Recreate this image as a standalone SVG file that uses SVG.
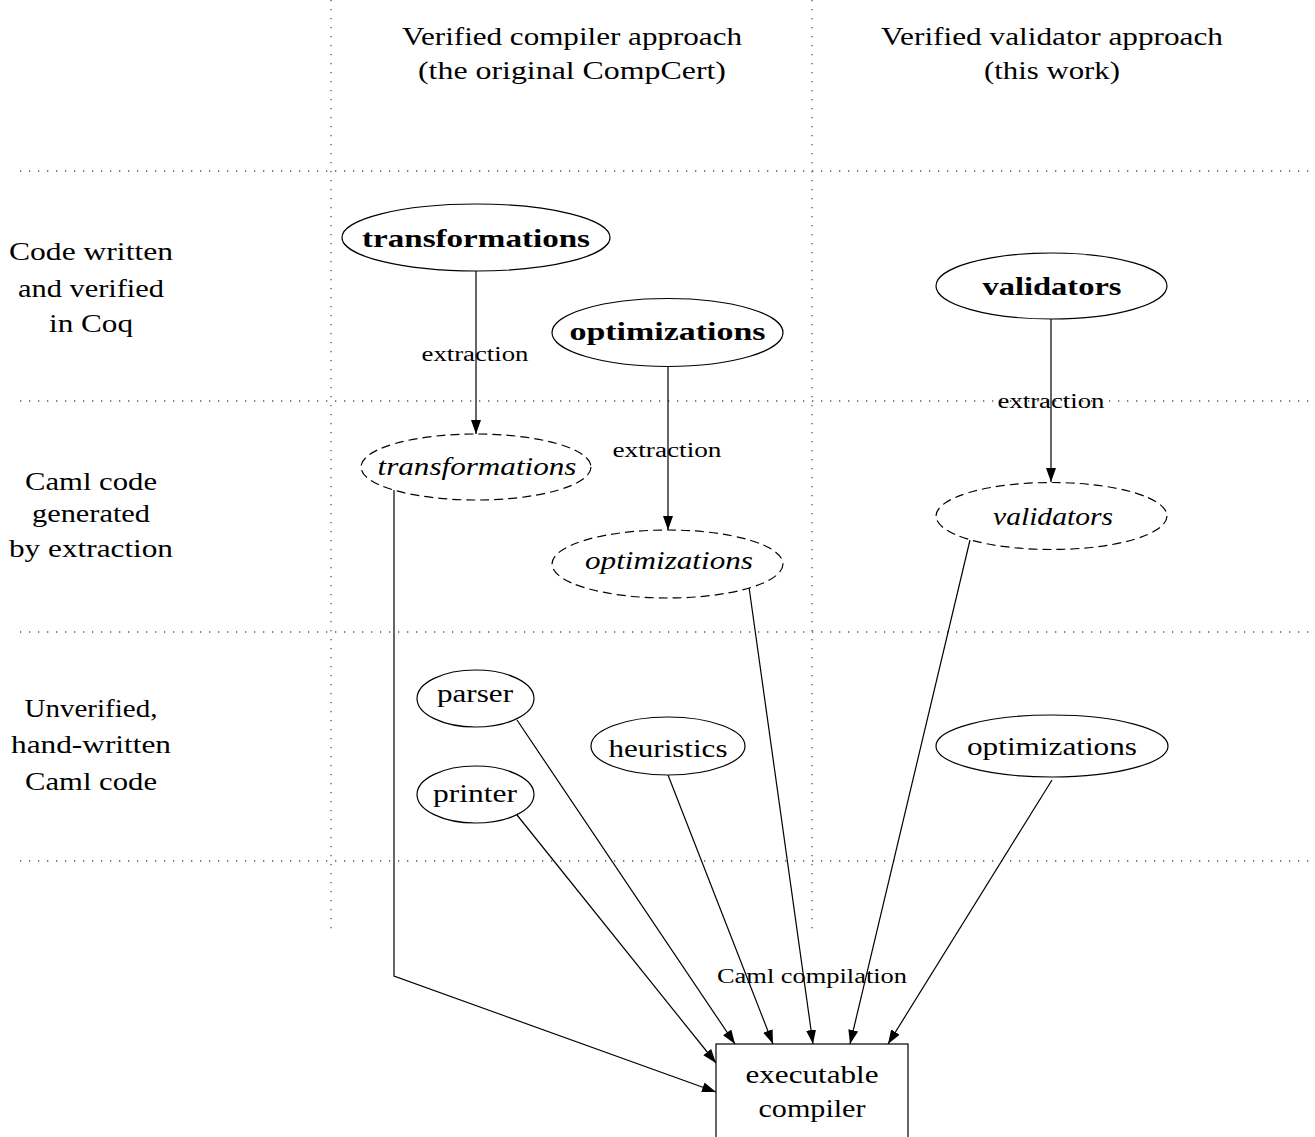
<svg xmlns="http://www.w3.org/2000/svg" width="1315" height="1137" viewBox="0 0 1315 1137">
<style>
text{font-family:"Liberation Serif","DejaVu Serif",serif;fill:#000;text-anchor:middle}
.t{font-size:25px}
.b{font-size:25px;font-weight:bold}
.i{font-size:25px;font-style:italic}
.l{font-size:20px}
.grid{stroke:#555;stroke-width:1.3;stroke-dasharray:1.3 7.7;fill:none}
.node{fill:#fff;stroke:#000;stroke-width:1.2}
.dash{fill:#fff;stroke:#000;stroke-width:1.2;stroke-dasharray:9 5}
.edge{stroke:#000;stroke-width:1.2;fill:none;marker-end:url(#ah)}
</style>
<defs>
<marker id="ah" markerUnits="userSpaceOnUse" markerWidth="15" markerHeight="11" refX="14" refY="5" orient="auto" viewBox="0 0 15 11">
<path d="M0,0 L14,5 L0,10 z" fill="#000"/>
</marker>
</defs>
<rect width="1315" height="1137" fill="#fff"/>
<g id="grid">
<line class="grid" x1="331" y1="0" x2="331" y2="932"/>
<line class="grid" x1="812" y1="0" x2="812" y2="932"/>
<line class="grid" x1="20" y1="171" x2="1315" y2="171"/>
<line class="grid" x1="20" y1="401" x2="1315" y2="401"/>
<line class="grid" x1="20" y1="632" x2="1315" y2="632"/>
<line class="grid" x1="20" y1="861" x2="1315" y2="861"/>
</g>
<g id="headers">
<text class="t" x="572" y="45" textLength="340" lengthAdjust="spacingAndGlyphs">Verified compiler approach</text>
<text class="t" x="572" y="79" textLength="308" lengthAdjust="spacingAndGlyphs">(the original CompCert)</text>
<text class="t" x="1052" y="45" textLength="342" lengthAdjust="spacingAndGlyphs">Verified validator approach</text>
<text class="t" x="1052" y="79" textLength="136" lengthAdjust="spacingAndGlyphs">(this work)</text>
</g>
<g id="rowlabels">
<text class="t" x="91" y="260" textLength="164" lengthAdjust="spacingAndGlyphs">Code written</text>
<text class="t" x="91" y="297" textLength="146" lengthAdjust="spacingAndGlyphs">and verified</text>
<text class="t" x="91" y="332" textLength="84" lengthAdjust="spacingAndGlyphs">in Coq</text>
<text class="t" x="91" y="490" textLength="132" lengthAdjust="spacingAndGlyphs">Caml code</text>
<text class="t" x="91" y="522" textLength="118" lengthAdjust="spacingAndGlyphs">generated</text>
<text class="t" x="91" y="557" textLength="164" lengthAdjust="spacingAndGlyphs">by extraction</text>
<text class="t" x="91" y="717" textLength="133" lengthAdjust="spacingAndGlyphs">Unverified,</text>
<text class="t" x="91" y="753" textLength="160" lengthAdjust="spacingAndGlyphs">hand-written</text>
<text class="t" x="91" y="790" textLength="132" lengthAdjust="spacingAndGlyphs">Caml code</text>
</g>
<g id="connectors">
<line class="edge" x1="476" y1="271" x2="476" y2="434"/>
<line class="edge" x1="668" y1="366" x2="668" y2="530"/>
<line class="edge" x1="1051" y1="319" x2="1051" y2="482"/>
<polyline class="edge" points="394,490 394,976 716,1092"/>
<line class="edge" x1="517" y1="720" x2="735" y2="1044"/>
<line class="edge" x1="517" y1="815" x2="716" y2="1063"/>
<line class="edge" x1="668" y1="775" x2="773" y2="1044"/>
<line class="edge" x1="749" y1="587" x2="813" y2="1044"/>
<line class="edge" x1="970" y1="540" x2="850" y2="1044"/>
<line class="edge" x1="1052" y1="780" x2="888" y2="1044"/>
<text class="l" x="475" y="361" textLength="107" lengthAdjust="spacingAndGlyphs">extraction</text>
<text class="l" x="667" y="457" textLength="109" lengthAdjust="spacingAndGlyphs">extraction</text>
<text class="l" x="1051" y="408" textLength="107" lengthAdjust="spacingAndGlyphs">extraction</text>
<text class="l" x="812" y="983" textLength="190" lengthAdjust="spacingAndGlyphs">Caml compilation</text>
</g>
<g id="n-transformations">
<ellipse class="node" cx="476" cy="237.5" rx="134" ry="33.5"/>
<text class="b" x="476" y="247" textLength="228" lengthAdjust="spacingAndGlyphs">transformations</text>
</g>
<g id="n-optimizations">
<ellipse class="node" cx="667.5" cy="332.5" rx="115.5" ry="34"/>
<text class="b" x="667.5" y="340" textLength="196" lengthAdjust="spacingAndGlyphs">optimizations</text>
</g>
<g id="n-validators">
<ellipse class="node" cx="1051.5" cy="286" rx="115.5" ry="33"/>
<text class="b" x="1052" y="295" textLength="139" lengthAdjust="spacingAndGlyphs">validators</text>
</g>
<g id="n-transformations-caml">
<ellipse class="dash" cx="476" cy="467" rx="115" ry="33"/>
<text class="i" x="477" y="475" textLength="199" lengthAdjust="spacingAndGlyphs">transformations</text>
</g>
<g id="n-optimizations-caml">
<ellipse class="dash" cx="667.5" cy="564" rx="115.5" ry="34"/>
<text class="i" x="669" y="569" textLength="168" lengthAdjust="spacingAndGlyphs">optimizations</text>
</g>
<g id="n-validators-caml">
<ellipse class="dash" cx="1051.5" cy="516" rx="115.5" ry="33.5"/>
<text class="i" x="1053" y="525" textLength="120" lengthAdjust="spacingAndGlyphs">validators</text>
</g>
<g id="n-parser">
<ellipse class="node" cx="475.5" cy="698.5" rx="58.5" ry="28.5"/>
<text class="t" x="475" y="702" textLength="76" lengthAdjust="spacingAndGlyphs">parser</text>
</g>
<g id="n-printer">
<ellipse class="node" cx="475.5" cy="794.5" rx="58.5" ry="28.5"/>
<text class="t" x="475" y="802" textLength="84" lengthAdjust="spacingAndGlyphs">printer</text>
</g>
<g id="n-heuristics">
<ellipse class="node" cx="668" cy="746" rx="77" ry="29"/>
<text class="t" x="668" y="757" textLength="119" lengthAdjust="spacingAndGlyphs">heuristics</text>
</g>
<g id="n-optimizations-hand">
<ellipse class="node" cx="1052" cy="746" rx="116" ry="31"/>
<text class="t" x="1052" y="755" textLength="170" lengthAdjust="spacingAndGlyphs">optimizations</text>
</g>
<g id="n-compiler">
<rect class="node" x="716" y="1044" width="192" height="110"/>
<text class="t" x="812" y="1083" textLength="133" lengthAdjust="spacingAndGlyphs">executable</text>
<text class="t" x="812" y="1117" textLength="107" lengthAdjust="spacingAndGlyphs">compiler</text>
</g>
</svg>
